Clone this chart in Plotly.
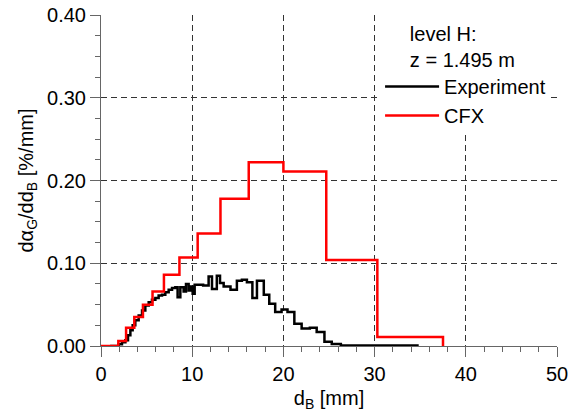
import plotly.graph_objects as go

# CFX histogram: bin edges [mm] and values [%/mm]
cfx_edges = [0.0, 1.9, 2.75, 3.65, 4.6, 5.65, 6.9, 8.6, 10.6, 13.1, 16.2, 20.0, 24.7, 30.3, 37.5]
cfx_vals = [0.0, 0.006, 0.022, 0.035, 0.050, 0.066, 0.086, 0.107, 0.136, 0.178, 0.222, 0.211, 0.104, 0.011]

# Experiment histogram: bin edges [mm] and values [%/mm]
exp_edges = [1.0, 1.94, 2.3, 2.67, 2.96, 3.22, 3.47, 3.76, 4.13, 4.5, 4.86, 5.23, 5.59, 5.96,
             6.32, 6.69, 7.05, 7.42, 7.79, 8.15, 8.4, 8.7, 9.06, 9.32, 9.61, 9.8, 10.05, 10.27,
             11.2, 11.8, 12.17, 12.7, 13.05, 13.45, 14.2, 14.9, 15.45, 16.0, 16.6, 17.1, 17.85,
             18.45, 19.1, 19.8, 20.45, 21.2, 22.0, 22.9, 23.65, 24.5, 25.3, 26.3, 34.7]
exp_vals = [0.0, 0.002, 0.0045, 0.007, 0.013, 0.019, 0.025, 0.031, 0.037, 0.043, 0.049, 0.053,
            0.056, 0.058, 0.061, 0.062, 0.065, 0.068, 0.070, 0.071, 0.059, 0.071, 0.066, 0.075,
            0.067, 0.072, 0.063, 0.074, 0.073, 0.084, 0.069, 0.085, 0.076, 0.072, 0.068, 0.079,
            0.080, 0.077, 0.058, 0.079, 0.062, 0.051, 0.041, 0.044, 0.041, 0.027, 0.021, 0.022,
            0.017, 0.005, 0.0025, 0.0006]

x_ticks = [0, 10, 20, 30, 40, 50]
y_ticks = [0.0, 0.1, 0.2, 0.3, 0.4]
y_ticklabels = ["0.00", "0.10", "0.20", "0.30", "0.40"]

FONT = "Liberation Sans, Arial, sans-serif"

fig = go.Figure()
fig.add_trace(go.Scatter(
    x=exp_edges, y=exp_vals + [0.0], mode="lines", line_shape="hv",
    line=dict(color="black", width=2.5), name="Experiment"))
fig.add_trace(go.Scatter(
    x=cfx_edges, y=cfx_vals + [0.0], mode="lines", line_shape="hv",
    line=dict(color="#ff0000", width=2.5), name="CFX"))

axis_common = dict(
    showline=True, linecolor="#666666", linewidth=1,
    ticks="outside", ticklen=10, tickcolor="#666666", tickwidth=1,
    showgrid=True, gridcolor="#333333", gridwidth=1, griddash="6px,4px",
    zeroline=False, tickfont=dict(size=20, color="black", family=FONT),
    mirror=False, automargin=False,
)

NB = "\u00a0"
fig.update_layout(
    width=571, height=416,
    margin=dict(l=101, r=14, t=15, b=70),
    paper_bgcolor="white", plot_bgcolor="white",
    font=dict(family=FONT, size=20, color="black"),
    showlegend=True,
    legend=dict(
        x=0.612, y=1.0, xanchor="left", yanchor="top",
        bgcolor="white", borderwidth=0,
        font=dict(size=20, family=FONT),
        title=dict(text=NB * 5 + "level H:<br>" + NB * 5 + "z = 1.495 m",
                   font=dict(size=20, family=FONT), side="top"),
        itemwidth=54, tracegroupgap=0,
    ),
    xaxis=dict(
        range=[0, 50], tickvals=x_ticks,
        minor=dict(dtick=2, ticks="outside", ticklen=5, tickcolor="#666666", showgrid=False),
        title=dict(text="d<sub>B</sub> [mm]", font=dict(size=20), standoff=6),
        **axis_common),
    yaxis=dict(
        range=[0, 0.40], tickvals=y_ticks, ticktext=y_ticklabels,
        minor=dict(dtick=0.025, ticks="outside", ticklen=5, tickcolor="#666666", showgrid=False),
        title=dict(text="d\u03b1<sub>G</sub>/dd<sub>B</sub> [%/mm]", font=dict(size=20), standoff=8),
        **axis_common),
)

fig.write_html("out.html")
